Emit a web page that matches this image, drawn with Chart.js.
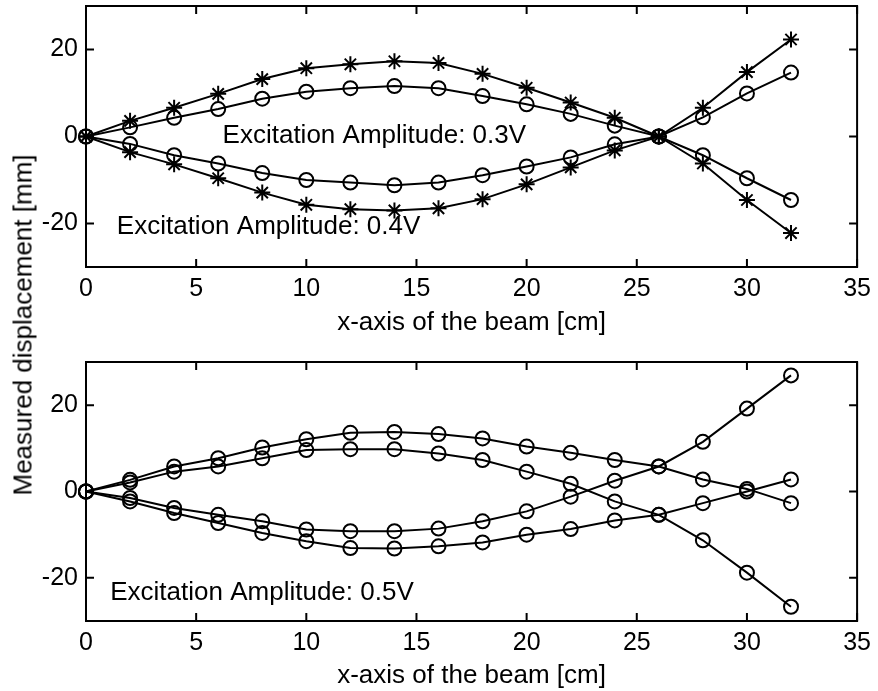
<!DOCTYPE html>
<html>
<head>
<meta charset="utf-8">
<script src="https://cdn.jsdelivr.net/npm/chart.js@4.4.1/dist/chart.umd.min.js"></script>
<style>
  body { margin: 0; background: #fff; }
  #wrap { position: relative; width: 878px; height: 691px; overflow: hidden; }
  canvas { position: absolute; left: 0; }
  #ylab {
    position: absolute; left: 23px; top: 325px;
    transform: translate(-50%, -50%) rotate(-90deg);
    white-space: nowrap; font: 26px 'Liberation Sans', Arial, sans-serif; color: #000;
  }
</style>
</head>
<body>
<div id="wrap">
  <canvas id="topChart" width="878" height="344" style="top:-4px"></canvas>
  <canvas id="bottomChart" width="878" height="351" style="top:340px"></canvas>
  <div id="ylab">Measured displacement [mm]</div>
</div>
<script>
// beam positions [cm]
const xs = [0, 2, 4, 6, 8, 10, 12, 14, 16, 18, 20, 22, 24, 26, 28, 30, 32];
const xTicks = [0, 5, 10, 15, 20, 25, 30, 35];
const yTicks = [-20, 0, 20];

// top plot: 0.3V (circles) and 0.4V (stars)
const amp03Up   = [0, 2.1, 4.3, 6.3, 8.7, 10.3, 11.1, 11.6, 11.1, 9.3, 7.4, 5.2, 2.5, 0, 4.4, 9.9, 14.7];
const amp03Down = [0, -1.7, -4.3, -6.2, -8.4, -10.0, -10.6, -11.2, -10.6, -8.9, -6.9, -4.8, -1.8, 0, -4.3, -9.6, -14.6];
const amp04Up   = [0, 3.6, 6.6, 9.8, 13.2, 15.7, 16.6, 17.3, 16.9, 14.4, 11.2, 7.8, 4.3, 0, 6.6, 14.8, 22.3];
const amp04Down = [0, -3.6, -6.4, -9.6, -12.9, -15.7, -16.7, -17.0, -16.5, -14.4, -11.0, -7.1, -3.2, 0, -6.2, -14.6, -22.2];

// bottom plot: 0.5V
const amp05A = [0, 2.7, 5.8, 7.7, 10.2, 12.1, 13.6, 13.8, 13.3, 12.3, 10.4, 9.0, 7.3, 5.8, 2.8, 0.6, -2.7];
const amp05B = [0, 2.1, 4.6, 5.8, 7.7, 9.6, 9.8, 9.8, 8.8, 7.3, 4.6, 1.8, -2.3, -5.4, -11.3, -18.8, -26.7];
const amp05C = [0, -1.5, -3.8, -5.4, -6.9, -8.8, -9.2, -9.2, -8.6, -6.9, -4.6, -1.2, 2.5, 5.8, 11.5, 19.2, 26.9];
const amp05D = [0, -2.3, -5.0, -7.3, -9.6, -11.5, -13.1, -13.2, -12.7, -11.8, -10.0, -8.7, -6.7, -5.4, -2.7, 0.0, 2.8];

const FONT = "'Liberation Sans', Arial, sans-serif";

function series(label, vals, style) {
  return {
    label: label,
    data: xs.map((x, i) => ({ x: x, y: vals[i] })),
    borderColor: '#000',
    backgroundColor: 'rgba(0,0,0,0)',
    borderWidth: 2,
    pointStyle: style,
    pointRadius: style === 'star' ? 8 : 7,
    pointBorderWidth: 2,
    pointBorderColor: '#000',
    pointBackgroundColor: 'rgba(0,0,0,0)',
    tension: 0,
    clip: false
  };
}

// matlab style box with inward ticks, plus text notes
const boxPlugin = {
  id: 'box',
  afterDraw(chart, args, opts) {
    const ctx = chart.ctx, a = chart.chartArea;
    const sx = chart.scales.x, sy = chart.scales.y;
    ctx.save();
    ctx.strokeStyle = '#000';
    ctx.lineWidth = 2;
    ctx.strokeRect(a.left, a.top, a.right - a.left, a.bottom - a.top);
    ctx.beginPath();
    xTicks.forEach(v => {
      const px = sx.getPixelForValue(v);
      ctx.moveTo(px, a.bottom); ctx.lineTo(px, a.bottom - 8);
      ctx.moveTo(px, a.top); ctx.lineTo(px, a.top + 8);
    });
    yTicks.forEach(v => {
      const py = sy.getPixelForValue(v);
      ctx.moveTo(a.left, py); ctx.lineTo(a.left + 8, py);
      ctx.moveTo(a.right, py); ctx.lineTo(a.right - 8, py);
    });
    ctx.stroke();
    ctx.fillStyle = '#000';
    ctx.font = '26px ' + FONT;
    ctx.textBaseline = 'middle';
    ctx.textAlign = 'left';
    (opts.notes || []).forEach(n => {
      ctx.fillText(n.text, sx.getPixelForValue(n.x), sy.getPixelForValue(n.y));
    });
    ctx.restore();
  }
};

function makeOptions(padTop, xHeight, titleBottom, notes) {
  const tickFont = { family: FONT, size: 25 };
  const labelFont = { family: FONT, size: 26 };
  return {
    responsive: false,
    animation: false,
    layout: { padding: { top: padTop, left: 0, right: 18, bottom: 0 } },
    plugins: {
      legend: { display: false },
      tooltip: { enabled: false },
      box: { notes: notes }
    },
    scales: {
      x: {
        type: 'linear', min: 0, max: 35,
        afterBuildTicks: s => { s.ticks = xTicks.map(v => ({ value: v })); },
        afterFit: s => { s.height = xHeight; },
        grid: { display: false, drawTicks: false },
        border: { display: false },
        ticks: { color: '#000', font: tickFont, padding: 7, maxRotation: 0 },
        title: { display: true, text: 'x-axis of the beam [cm]', color: '#000', font: labelFont,
                 padding: { top: 0, bottom: titleBottom } }
      },
      y: {
        type: 'linear', min: -30, max: 30,
        afterBuildTicks: s => { s.ticks = yTicks.map(v => ({ value: v })); },
        afterFit: s => { s.width = 86; s.paddingTop = 0; s.paddingBottom = 0; },
        grid: { display: false, drawTicks: false },
        border: { display: false },
        ticks: { color: '#000', font: tickFont, padding: 8 }
      }
    }
  };
}

new Chart(document.getElementById('topChart'), {
  type: 'line',
  data: {
    datasets: [
      series('0.3V +', amp03Up, 'circle'),
      series('0.3V -', amp03Down, 'circle'),
      series('0.4V +', amp04Up, 'star'),
      series('0.4V -', amp04Down, 'star')
    ]
  },
  options: makeOptions(1, 73, 2, [
    { text: 'Excitation Amplitude: 0.3V', x: 6.2, y: 0.2 },
    { text: 'Excitation Amplitude: 0.4V', x: 1.4, y: -20.8 }
  ]),
  plugins: [boxPlugin]
});

new Chart(document.getElementById('bottomChart'), {
  type: 'line',
  data: {
    datasets: [
      series('0.5V a', amp05A, 'circle'),
      series('0.5V b', amp05B, 'circle'),
      series('0.5V c', amp05C, 'circle'),
      series('0.5V d', amp05D, 'circle')
    ]
  },
  options: makeOptions(22, 70, 0, [
    { text: 'Excitation Amplitude: 0.5V', x: 1.1, y: -23.5 }
  ]),
  plugins: [boxPlugin]
});
</script>
</body>
</html>
